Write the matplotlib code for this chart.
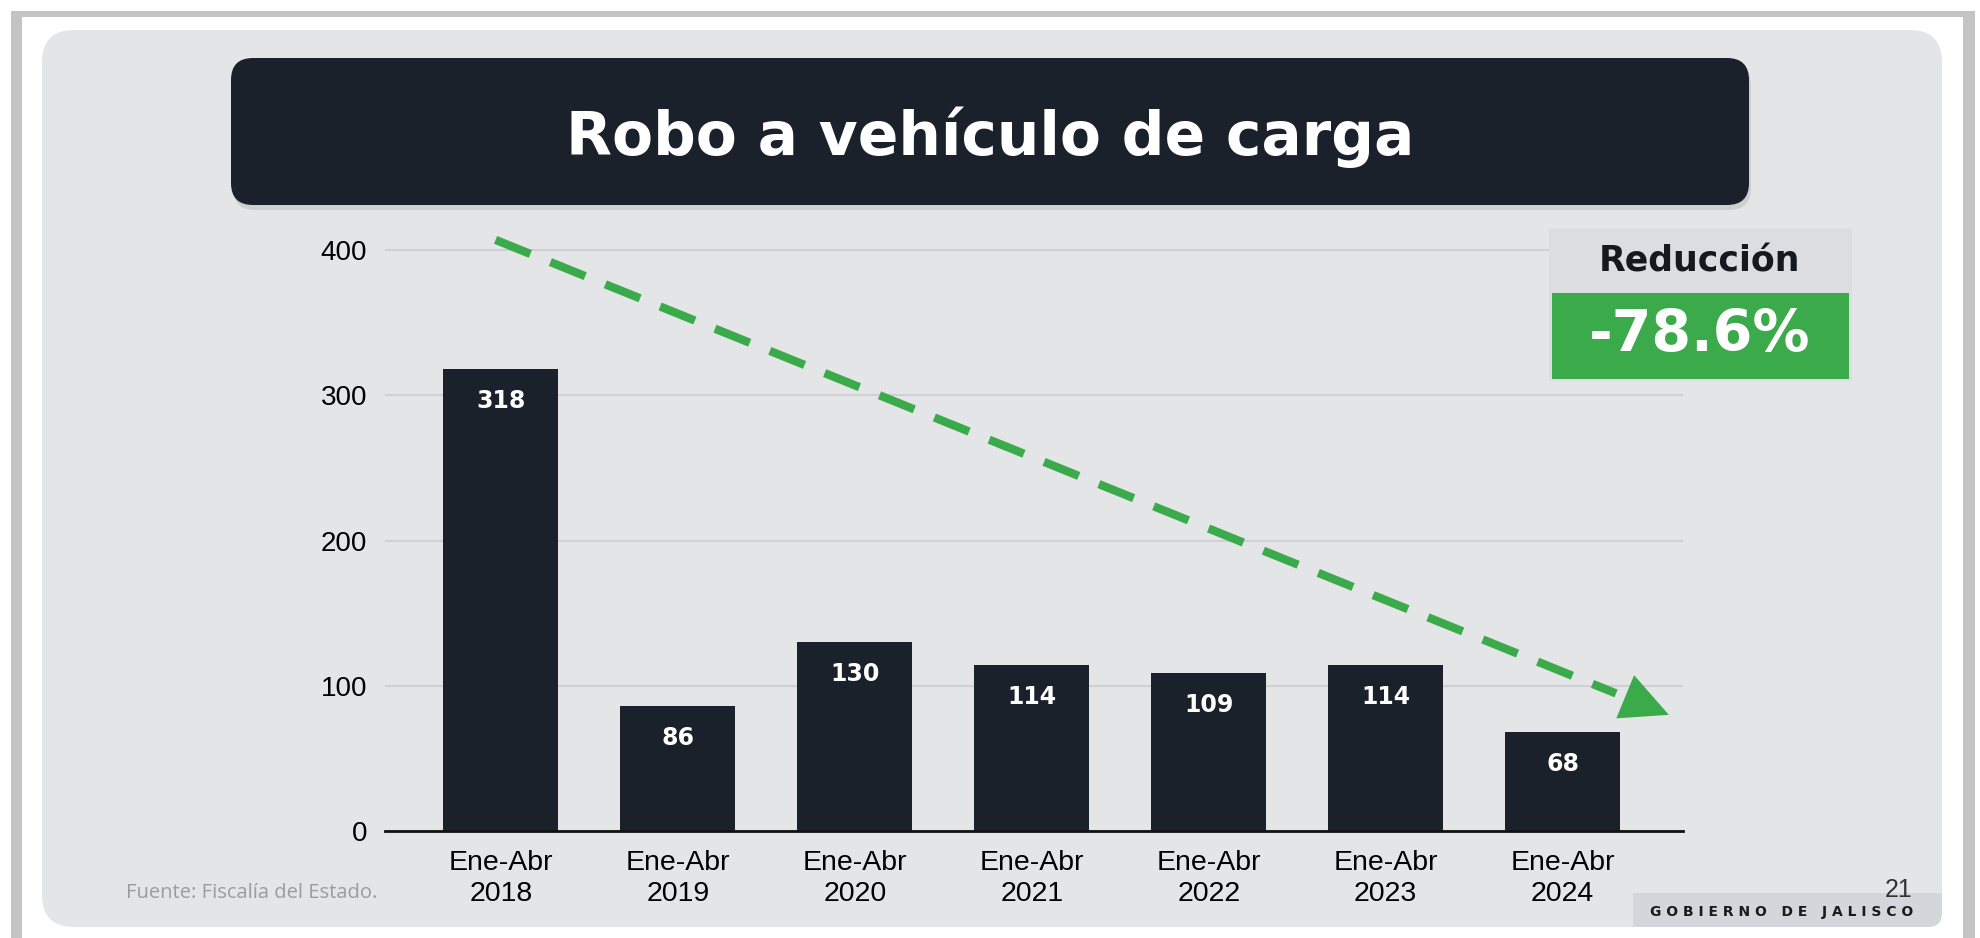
import matplotlib
matplotlib.use("Agg")
import matplotlib.pyplot as plt
from matplotlib.patches import FancyBboxPatch, Rectangle

# --- data -------------------------------------------------------------
periods = ["Ene-Abr\n2018", "Ene-Abr\n2019", "Ene-Abr\n2020", "Ene-Abr\n2021",
           "Ene-Abr\n2022", "Ene-Abr\n2023", "Ene-Abr\n2024"]
values = [318, 86, 130, 114, 109, 114, 68]
y_ticks = [0, 100, 200, 300, 400]
trend_x = [-0.03, 6.6]     # dashed trend arrow, start -> tip
trend_y = [407, 80]
reduction = "-78.6%"

# --- colours ----------------------------------------------------------
PANEL = "#e4e5e7"
DARK = "#1b212a"
GREEN = "#3aaa4a"
GRID = "#cfd0d3"
HEAD = "DejaVu Sans"
ARIAL = "Liberation Sans"

W, H = 1980, 938
fig = plt.figure(figsize=(W / 100, H / 100), dpi=100, facecolor="white")

# background layer in pixel coords (y down)
bg = fig.add_axes([0, 0, 1, 1], zorder=0)
bg.set_xlim(0, W)
bg.set_ylim(H, 0)
bg.axis("off")
bg.add_patch(Rectangle((11, 11), 11, H, color="#c4c4c4", lw=0))
bg.add_patch(Rectangle((11, 11), 1964, 6, color="#c4c4c4", lw=0))
bg.add_patch(Rectangle((1963, 11), 12, H, color="#c4c4c4", lw=0))
bg.add_patch(FancyBboxPatch((42, 30), 1900, 897, boxstyle="round,pad=0,rounding_size=32",
                            fc=PANEL, ec="none"))
# title bar with soft shadow
bg.add_patch(FancyBboxPatch((233, 63), 1518, 147, boxstyle="round,pad=0,rounding_size=22",
                            fc="#b9babd", ec="none", alpha=0.5))
bg.add_patch(FancyBboxPatch((231, 58), 1518, 147, boxstyle="round,pad=0,rounding_size=22",
                            fc=DARK, ec="none"))
bg.text(990, 137, "Robo a vehículo de carga", color="white", fontsize=43,
        fontweight="bold", family=HEAD, ha="center", va="center")

# --- chart ------------------------------------------------------------
ax = fig.add_axes([385 / W, 107 / H, 1298 / W, 610 / H], zorder=1)
ax.set_facecolor("none")
x = list(range(len(values)))
bars = ax.bar(x, values, width=0.65, color=DARK, zorder=3)
for b, v in zip(bars, values):
    ax.annotate(str(v), (b.get_x() + b.get_width() / 2, v), xytext=(0, -23),
                textcoords="offset points", ha="center", va="center",
                color="white", fontsize=17, fontweight="bold", family=HEAD, zorder=4)

ax.set_xlim(-0.655, 6.68)
ax.set_ylim(0, 420)
ax.set_yticks(y_ticks)
ax.set_yticklabels([str(t) for t in y_ticks], fontsize=20, family=ARIAL)
ax.set_xticks(x)
ax.set_xticklabels(periods, fontsize=20.5, family=ARIAL, linespacing=1.25)
ax.tick_params(length=0)
ax.tick_params(axis="y", pad=13)
ax.tick_params(axis="x", pad=14)
ax.grid(axis="y", color=GRID, lw=1.5, zorder=0)
for s in ["top", "right", "left"]:
    ax.spines[s].set_visible(False)
ax.spines["bottom"].set_color("#111111")
ax.spines["bottom"].set_linewidth(2)
ax.spines["bottom"].set_zorder(5)

# dashed trend arrow
frac = 0.955
mid_x = trend_x[0] + (trend_x[1] - trend_x[0]) * frac
mid_y = trend_y[0] + (trend_y[1] - trend_y[0]) * frac
ax.plot([trend_x[0], mid_x], [trend_y[0], mid_y], color=GREEN, lw=6,
        dashes=(4.5, 2.6), solid_capstyle="butt", zorder=6, clip_on=False)
ax.annotate("", xy=(trend_x[1], trend_y[1]), xytext=(mid_x - 0.02, mid_y + 1.3),
            arrowprops=dict(arrowstyle="-|>,head_length=0.85,head_width=0.42",
                            mutation_scale=40, color=GREEN, lw=0,
                            shrinkA=0, shrinkB=0), zorder=6, annotation_clip=False)

# --- overlay: reduction box and footer --------------------------------
ov = fig.add_axes([0, 0, 1, 1], zorder=2)
ov.set_xlim(0, W)
ov.set_ylim(H, 0)
ov.axis("off")
ov.add_patch(Rectangle((1549, 229), 303, 152, fc="#dcdde0", ec="none"))
ov.add_patch(Rectangle((1552, 293), 297, 86, fc=GREEN, ec="none"))
ov.text(1700, 262, "Reducción", color="#15191f", fontsize=25, fontweight="bold",
        family=HEAD, ha="center", va="center")
ov.text(1700, 335, reduction, color="white", fontsize=41, fontweight="bold",
        family=HEAD, ha="center", va="center")

ov.text(126, 893, "Fuente: Fiscalía del Estado.", color="#9c9c9c", fontsize=14.5,
        family="Open Sans", ha="left", va="center")
ov.text(1912, 890, "21", color="#333333", fontsize=18, family=ARIAL,
        ha="right", va="center")
ov.add_patch(FancyBboxPatch((1633, 893), 309, 34, boxstyle="round,pad=0,rounding_size=14",
                            fc="#d3d6da", ec="none"))
ov.add_patch(Rectangle((1633, 893), 309, 16, fc="#d3d6da", ec="none"))
ov.add_patch(Rectangle((1633, 893), 30, 34, fc="#d3d6da", ec="none"))
ov.text(1782, 912, "G O B I E R N O   D E   J A L I S C O", color="#1a1a1a", fontsize=10,
        fontweight="bold", family=HEAD, ha="center", va="center")

fig.savefig("out.png", dpi=100, facecolor="white")
